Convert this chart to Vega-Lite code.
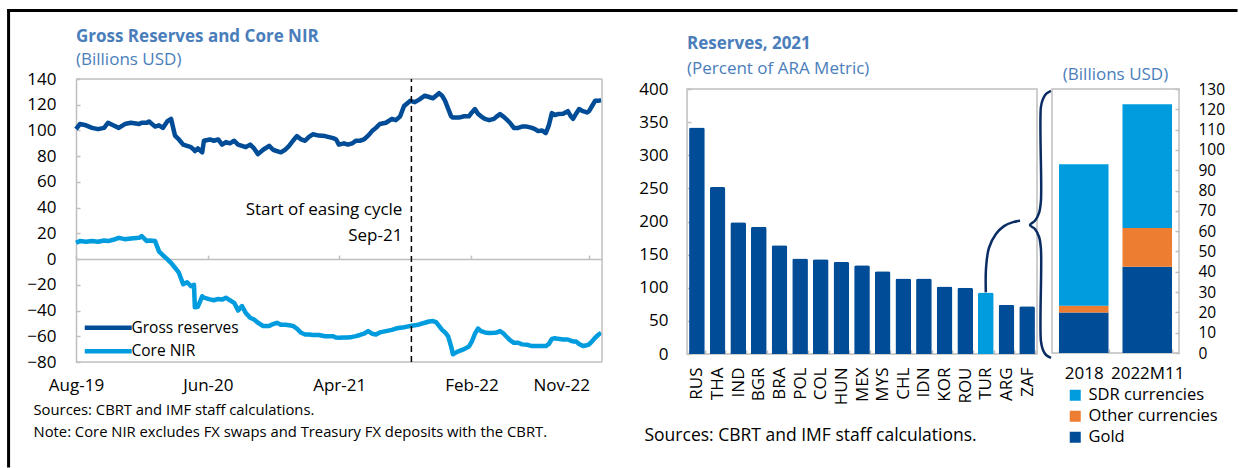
{
  "$schema": "https://vega.github.io/schema/vega-lite/v6.json",
  "background": "white",
  "padding": {"left": 6, "top": 8, "right": 0, "bottom": 0},
  "bounds": "flush",
  "spacing": 15,
  "resolve": {"scale": {"color": "independent"}, "legend": {"color": "independent"}},
  "config": {
    "font": "Open Sans",
    "axis": {"labelColor": "#000000", "labelFontSize": 17, "grid": false},
    "legend": {"labelColor": "#000000", "labelFontSize": 16.5, "padding": 0},
    "title": {"color": "#4a7ebb", "subtitleColor": "#4a7ebb", "fontSize": 17, "subtitleFontSize": 17}
  },
  "hconcat": [
    {
      "width": 596,
      "height": 273,
      "view": {"stroke": null},
      "title": {"text": "Gross Reserves and Core NIR", "subtitle": "(Billions USD)", "anchor": "start", "frame": "group", "offset": -61, "fontWeight": "bold", "subtitlePadding": 6},
      "layer": [
        {
          "data": {"values": [
            {"date": "2019-08-01", "Gross reserves": 101, "Core NIR": 12.7},
            {"date": "2019-08-10", "Gross reserves": 105, "Core NIR": 14},
            {"date": "2019-08-24", "Gross reserves": 104, "Core NIR": 13.5},
            {"date": "2019-09-07", "Gross reserves": 102, "Core NIR": 14},
            {"date": "2019-09-21", "Gross reserves": 101, "Core NIR": 13.5},
            {"date": "2019-10-05", "Gross reserves": 102, "Core NIR": 14.5},
            {"date": "2019-10-14", "Gross reserves": 106, "Core NIR": 14},
            {"date": "2019-10-26", "Gross reserves": 104, "Core NIR": 15},
            {"date": "2019-11-08", "Gross reserves": 102, "Core NIR": 16.5},
            {"date": "2019-11-22", "Gross reserves": 105, "Core NIR": 15.5},
            {"date": "2019-12-06", "Gross reserves": 106, "Core NIR": 16},
            {"date": "2019-12-25", "Gross reserves": 105, "Core NIR": 16.5},
            {"date": "2019-12-31", "Gross reserves": 106, "Core NIR": 17.9},
            {"date": "2020-01-12", "Gross reserves": 106, "Core NIR": 14},
            {"date": "2020-01-17", "Gross reserves": 107, "Core NIR": 14.5},
            {"date": "2020-01-31", "Gross reserves": 103, "Core NIR": 14},
            {"date": "2020-02-09", "Gross reserves": 104, "Core NIR": 6},
            {"date": "2020-02-18", "Gross reserves": 102, "Core NIR": 3},
            {"date": "2020-02-28", "Gross reserves": 107, "Core NIR": 0},
            {"date": "2020-03-08", "Gross reserves": 109, "Core NIR": -3},
            {"date": "2020-03-17", "Gross reserves": 96, "Core NIR": -6.7},
            {"date": "2020-03-26", "Gross reserves": 93, "Core NIR": -10.6},
            {"date": "2020-04-05", "Gross reserves": 89, "Core NIR": -19.5},
            {"date": "2020-04-14", "Gross reserves": 88, "Core NIR": -18},
            {"date": "2020-04-23", "Gross reserves": 87, "Core NIR": -21},
            {"date": "2020-04-30", "Gross reserves": 85, "Core NIR": -20},
            {"date": "2020-05-02", "Gross reserves": 84, "Core NIR": -37.5},
            {"date": "2020-05-09", "Gross reserves": 86, "Core NIR": -37},
            {"date": "2020-05-19", "Gross reserves": 83, "Core NIR": -29},
            {"date": "2020-05-23", "Gross reserves": 92, "Core NIR": -30},
            {"date": "2020-06-06", "Gross reserves": 93, "Core NIR": -31.3},
            {"date": "2020-06-15", "Gross reserves": 92, "Core NIR": -32},
            {"date": "2020-06-25", "Gross reserves": 93, "Core NIR": -31},
            {"date": "2020-07-04", "Gross reserves": 89, "Core NIR": -31.5},
            {"date": "2020-07-13", "Gross reserves": 91, "Core NIR": -30},
            {"date": "2020-07-22", "Gross reserves": 90, "Core NIR": -32},
            {"date": "2020-08-01", "Gross reserves": 92, "Core NIR": -34},
            {"date": "2020-08-10", "Gross reserves": 89, "Core NIR": -40},
            {"date": "2020-08-19", "Gross reserves": 88, "Core NIR": -36.5},
            {"date": "2020-08-28", "Gross reserves": 87, "Core NIR": -42},
            {"date": "2020-09-07", "Gross reserves": 89, "Core NIR": -45.6},
            {"date": "2020-09-16", "Gross reserves": 86, "Core NIR": -47},
            {"date": "2020-09-25", "Gross reserves": 81.6, "Core NIR": -49.5},
            {"date": "2020-10-07", "Gross reserves": 85, "Core NIR": -52},
            {"date": "2020-10-21", "Gross reserves": 88, "Core NIR": -52},
            {"date": "2020-10-30", "Gross reserves": 85, "Core NIR": -50.5},
            {"date": "2020-11-08", "Gross reserves": 84, "Core NIR": -49.5},
            {"date": "2020-11-17", "Gross reserves": 83, "Core NIR": -51},
            {"date": "2020-11-27", "Gross reserves": 85, "Core NIR": -51},
            {"date": "2020-12-06", "Gross reserves": 88, "Core NIR": -51.5},
            {"date": "2020-12-15", "Gross reserves": 92, "Core NIR": -52},
            {"date": "2020-12-24", "Gross reserves": 95.6, "Core NIR": -54},
            {"date": "2021-01-03", "Gross reserves": 93, "Core NIR": -57.3},
            {"date": "2021-01-12", "Gross reserves": 92, "Core NIR": -58.6},
            {"date": "2021-01-21", "Gross reserves": 95, "Core NIR": -58.6},
            {"date": "2021-01-30", "Gross reserves": 97, "Core NIR": -59},
            {"date": "2021-02-13", "Gross reserves": 96, "Core NIR": -59},
            {"date": "2021-02-27", "Gross reserves": 95.6, "Core NIR": -60},
            {"date": "2021-03-18", "Gross reserves": 94, "Core NIR": -60},
            {"date": "2021-03-25", "Gross reserves": 93, "Core NIR": -61},
            {"date": "2021-03-31", "Gross reserves": 89, "Core NIR": -61.2},
            {"date": "2021-04-12", "Gross reserves": 90, "Core NIR": -61},
            {"date": "2021-04-21", "Gross reserves": 89, "Core NIR": -61},
            {"date": "2021-05-01", "Gross reserves": 90, "Core NIR": -60.5},
            {"date": "2021-05-10", "Gross reserves": 92, "Core NIR": -59.9},
            {"date": "2021-05-19", "Gross reserves": 92, "Core NIR": -59},
            {"date": "2021-05-28", "Gross reserves": 93, "Core NIR": -58},
            {"date": "2021-06-07", "Gross reserves": 96, "Core NIR": -56},
            {"date": "2021-06-16", "Gross reserves": 99.5, "Core NIR": -58},
            {"date": "2021-06-25", "Gross reserves": 102, "Core NIR": -58.6},
            {"date": "2021-07-04", "Gross reserves": 105, "Core NIR": -57},
            {"date": "2021-07-18", "Gross reserves": 106, "Core NIR": -56},
            {"date": "2021-08-01", "Gross reserves": 109, "Core NIR": -55},
            {"date": "2021-08-10", "Gross reserves": 108, "Core NIR": -54},
            {"date": "2021-08-20", "Gross reserves": 111, "Core NIR": -53.4},
            {"date": "2021-08-29", "Gross reserves": 119, "Core NIR": -53},
            {"date": "2021-09-05", "Gross reserves": 121, "Core NIR": -52.5},
            {"date": "2021-09-12", "Gross reserves": 123, "Core NIR": -52},
            {"date": "2021-09-23", "Gross reserves": 122, "Core NIR": -51.5},
            {"date": "2021-10-03", "Gross reserves": 124, "Core NIR": -50.8},
            {"date": "2021-10-16", "Gross reserves": 127, "Core NIR": -49.5},
            {"date": "2021-10-26", "Gross reserves": 126, "Core NIR": -48.5},
            {"date": "2021-11-04", "Gross reserves": 125, "Core NIR": -48.2},
            {"date": "2021-11-11", "Gross reserves": 127, "Core NIR": -49},
            {"date": "2021-11-18", "Gross reserves": 129, "Core NIR": -52},
            {"date": "2021-11-25", "Gross reserves": 127, "Core NIR": -55},
            {"date": "2021-12-02", "Gross reserves": 123, "Core NIR": -57},
            {"date": "2021-12-09", "Gross reserves": 117, "Core NIR": -60},
            {"date": "2021-12-16", "Gross reserves": 111, "Core NIR": -68},
            {"date": "2021-12-20", "Gross reserves": 110, "Core NIR": -74},
            {"date": "2021-12-25", "Gross reserves": 110, "Core NIR": -73},
            {"date": "2022-01-03", "Gross reserves": 110, "Core NIR": -71.5},
            {"date": "2022-01-15", "Gross reserves": 111, "Core NIR": -70},
            {"date": "2022-01-26", "Gross reserves": 111, "Core NIR": -68},
            {"date": "2022-02-02", "Gross reserves": 114, "Core NIR": -64},
            {"date": "2022-02-09", "Gross reserves": 116.6, "Core NIR": -58},
            {"date": "2022-02-16", "Gross reserves": 113, "Core NIR": -54},
            {"date": "2022-02-23", "Gross reserves": 111, "Core NIR": -56},
            {"date": "2022-03-04", "Gross reserves": 109, "Core NIR": -57},
            {"date": "2022-03-14", "Gross reserves": 108, "Core NIR": -57.5},
            {"date": "2022-03-25", "Gross reserves": 109, "Core NIR": -57.3},
            {"date": "2022-04-01", "Gross reserves": 111, "Core NIR": -57},
            {"date": "2022-04-08", "Gross reserves": 112.7, "Core NIR": -56},
            {"date": "2022-04-15", "Gross reserves": 111, "Core NIR": -57.5},
            {"date": "2022-04-22", "Gross reserves": 109, "Core NIR": -60},
            {"date": "2022-05-01", "Gross reserves": 106, "Core NIR": -63},
            {"date": "2022-05-10", "Gross reserves": 102, "Core NIR": -65.1},
            {"date": "2022-05-20", "Gross reserves": 102, "Core NIR": -65},
            {"date": "2022-05-29", "Gross reserves": 103, "Core NIR": -66.3},
            {"date": "2022-06-09", "Gross reserves": 103, "Core NIR": -66.5},
            {"date": "2022-06-21", "Gross reserves": 102, "Core NIR": -67.6},
            {"date": "2022-06-28", "Gross reserves": 101, "Core NIR": -67.5},
            {"date": "2022-07-05", "Gross reserves": 99.5, "Core NIR": -67.6},
            {"date": "2022-07-14", "Gross reserves": 100, "Core NIR": -67.6},
            {"date": "2022-07-23", "Gross reserves": 98, "Core NIR": -67.6},
            {"date": "2022-07-30", "Gross reserves": 104, "Core NIR": -66},
            {"date": "2022-08-06", "Gross reserves": 113.5, "Core NIR": -62},
            {"date": "2022-08-13", "Gross reserves": 112, "Core NIR": -61.5},
            {"date": "2022-08-20", "Gross reserves": 112.7, "Core NIR": -62},
            {"date": "2022-09-01", "Gross reserves": 113, "Core NIR": -62.5},
            {"date": "2022-09-12", "Gross reserves": 115, "Core NIR": -62.5},
            {"date": "2022-09-19", "Gross reserves": 111, "Core NIR": -63.5},
            {"date": "2022-09-24", "Gross reserves": 109, "Core NIR": -64},
            {"date": "2022-10-01", "Gross reserves": 113, "Core NIR": -64},
            {"date": "2022-10-08", "Gross reserves": 116.6, "Core NIR": -66},
            {"date": "2022-10-17", "Gross reserves": 115, "Core NIR": -67.6},
            {"date": "2022-10-26", "Gross reserves": 114, "Core NIR": -67},
            {"date": "2022-10-31", "Gross reserves": 115, "Core NIR": -66.3},
            {"date": "2022-11-07", "Gross reserves": 119, "Core NIR": -64},
            {"date": "2022-11-14", "Gross reserves": 123, "Core NIR": -61.2},
            {"date": "2022-11-21", "Gross reserves": 123, "Core NIR": -59},
            {"date": "2022-11-28", "Gross reserves": 123.6, "Core NIR": -57.3}
          ]},
          "transform": [{"fold": ["Gross reserves", "Core NIR"], "as": ["series", "value"]}],
          "mark": {"type": "line", "strokeWidth": 4.5, "strokeJoin": "round"},
          "encoding": {
            "x": {
              "field": "date", "type": "temporal", "title": null,
              "scale": {"type": "utc", "domain": [{"year": 2019, "month": 8, "date": 1, "utc": true}, {"year": 2022, "month": 11, "date": 30, "utc": true}], "range": [0, 526]},
              "axis": {
                "values": [{"year": 2019, "month": 8, "date": 1, "utc": true}, {"year": 2020, "month": 6, "date": 1, "utc": true}, {"year": 2021, "month": 4, "date": 1, "utc": true}, {"year": 2022, "month": 2, "date": 1, "utc": true}, {"year": 2022, "month": 11, "date": 1, "utc": true}],
                "format": "%b-%y",
                "offset": -102.9,
                "domainColor": "#bfbfbf", "domainWidth": 1.5,
                "tickColor": "#bfbfbf", "tickWidth": 1.5, "tickSize": -4,
                "labelPadding": 122,
                "labelAlign": {"condition": {"test": "datum.index === 1", "value": "right"}, "value": "center"},
                "title": ["Sources: CBRT and IMF staff calculations.", "Note: Core NIR excludes FX swaps and Treasury FX deposits with the CBRT."],
                "titleX": -43, "titleY": 143, "titleAlign": "left", "titleAnchor": "start", "titleBaseline": "top",
                "titleFontSize": 14.8, "titleFontWeight": "normal", "titleColor": "#000000", "titleLineHeight": 22
              }
            },
            "y": {
              "field": "value", "type": "quantitative", "title": null,
              "scale": {"domain": [-80, 140], "range": [273, -10], "nice": false, "zero": false},
              "axis": {"values": [-80, -60, -40, -20, 0, 20, 40, 60, 80, 100, 120, 140], "labelOverlap": false, "domainColor": "#bfbfbf", "domainWidth": 1.5, "tickColor": "#bfbfbf", "tickWidth": 1.5, "tickSize": -4, "labelPadding": 24}
            },
            "color": {
              "field": "series", "type": "nominal",
              "scale": {"domain": ["Gross reserves", "Core NIR"], "range": ["#004c97", "#009cde"]},
              "legend": {"title": null, "orient": "none", "legendX": 6, "legendY": 231, "symbolType": "M-1,0H8.4", "symbolSize": 100, "symbolStrokeWidth": 4.5, "labelOffset": 34, "labelFontSize": 15.5, "rowPadding": 4.5}
            }
          }
        },
        {
          "data": {"values": [{}]},
          "mark": {"type": "rule", "color": "#bfbfbf", "strokeWidth": 1.5},
          "encoding": {
            "x": {"datum": {"year": 2019, "month": 8, "date": 1, "utc": true}, "type": "temporal", "axis": null},
            "x2": {"datum": {"year": 2022, "month": 11, "date": 30, "utc": true}},
            "y": {"datum": 140, "axis": null}
          }
        },
        {
          "data": {"values": [{}]},
          "mark": {"type": "rule", "color": "#bfbfbf", "strokeWidth": 1.5},
          "encoding": {
            "x": {"datum": {"year": 2019, "month": 8, "date": 1, "utc": true}, "type": "temporal", "axis": null},
            "x2": {"datum": {"year": 2022, "month": 11, "date": 30, "utc": true}},
            "y": {"datum": -80, "axis": null}
          }
        },
        {
          "data": {"values": [{}]},
          "mark": {"type": "rule", "color": "#bfbfbf", "strokeWidth": 1.5},
          "encoding": {
            "x": {"datum": {"year": 2022, "month": 11, "date": 30, "utc": true}, "type": "temporal", "axis": null},
            "y": {"datum": -80, "axis": null},
            "y2": {"datum": 140}
          }
        },
        {
          "data": {"values": [{}]},
          "mark": {"type": "rule", "color": "#000000", "strokeWidth": 1.5, "strokeDash": [6, 4]},
          "encoding": {
            "x": {"datum": {"year": 2021, "month": 9, "date": 15, "utc": true}, "type": "temporal", "axis": null},
            "y": {"datum": -80, "axis": null},
            "y2": {"datum": 140}
          }
        },
        {
          "data": {"values": [{}]},
          "mark": {"type": "text", "align": "right", "baseline": "middle", "dx": -9, "fontSize": 17, "lineBreak": "\n", "lineHeight": 26, "color": "#000000"},
          "encoding": {
            "x": {"datum": {"year": 2021, "month": 9, "date": 15, "utc": true}, "type": "temporal", "axis": null},
            "y": {"datum": 38, "axis": null},
            "text": {"value": "Start of easing cycle\nSep-21"}
          }
        },
        {
          "data": {"values": [{}]},
          "mark": {"type": "rule", "color": "#000000", "strokeWidth": 3, "strokeCap": "square"},
          "encoding": {
            "x": {"datum": {"year": 2019, "month": 2, "date": 26, "utc": true}, "type": "temporal", "axis": null},
            "x2": {"datum": {"year": 2026, "month": 12, "date": 6, "utc": true}},
            "y": {"datum": 193.25, "axis": null}
          }
        },
        {
          "data": {"values": [{}]},
          "mark": {"type": "rule", "color": "#000000", "strokeWidth": 3, "strokeCap": "square"},
          "encoding": {
            "x": {"datum": {"year": 2019, "month": 2, "date": 26, "utc": true}, "type": "temporal", "axis": null},
            "y": {"datum": 193.25, "axis": null},
            "y2": {"datum": -160.85}
          }
        }
      ],
      "resolve": {"axis": {"x": "independent", "y": "independent"}}
    },
    {
      "width": 350,
      "height": 265,
      "view": {"stroke": "#bfbfbf", "strokeWidth": 1.5},
      "title": {"text": "Reserves, 2021", "subtitle": "(Percent of ARA Metric)", "anchor": "start", "frame": "group", "offset": 2, "fontWeight": "bold", "subtitlePadding": 8},
      "layer": [
        {
          "data": {"values": [
            {"country": "RUS", "pct": 342},
            {"country": "THA", "pct": 252},
            {"country": "IND", "pct": 199},
            {"country": "BGR", "pct": 192},
            {"country": "BRA", "pct": 164},
            {"country": "POL", "pct": 144},
            {"country": "COL", "pct": 143},
            {"country": "HUN", "pct": 139},
            {"country": "MEX", "pct": 134},
            {"country": "MYS", "pct": 125},
            {"country": "CHL", "pct": 114},
            {"country": "IDN", "pct": 114},
            {"country": "KOR", "pct": 102},
            {"country": "ROU", "pct": 100},
            {"country": "TUR", "pct": 93},
            {"country": "ARG", "pct": 74.5},
            {"country": "ZAF", "pct": 72}
          ]},
          "mark": {"type": "bar", "cornerRadiusTopLeft": 2, "cornerRadiusTopRight": 2},
          "encoding": {
            "x": {
              "field": "country", "type": "nominal", "sort": null,
              "scale": {"paddingInner": 0.24, "paddingOuter": 0.1},
              "axis": {
                "labelAngle": -90, "labelPadding": 17, "domain": false,
                "tickBand": "extent", "tickSize": -4, "tickColor": "#bfbfbf", "tickWidth": 1.5,
                "title": "Sources: CBRT and IMF staff calculations.",
                "titleX": -43, "titleY": 72, "titleAlign": "left", "titleAnchor": "start", "titleBaseline": "top",
                "titleFontSize": 17.5, "titleFontWeight": "normal", "titleColor": "#000000"
              }
            },
            "y": {
              "field": "pct", "type": "quantitative", "title": null,
              "scale": {"domain": [0, 400], "nice": false},
              "axis": {"values": [0, 50, 100, 150, 200, 250, 300, 350, 400], "labelOverlap": false, "domain": false, "tickColor": "#bfbfbf", "tickWidth": 1.5, "tickSize": -4, "labelPadding": 23}
            },
            "color": {"condition": {"test": "datum.country === 'TUR'", "value": "#009cde"}, "value": "#004c97"}
          }
        },
        {
          "data": {"values": [
            {"cx": 14.48, "cy": 93},
            {"cx": 14.49, "cy": 129.8},
            {"cx": 14.63, "cy": 160},
            {"cx": 14.97, "cy": 181},
            {"cx": 15.36, "cy": 193},
            {"cx": 15.8, "cy": 199},
            {"cx": 16.14, "cy": 201}
          ]},
          "mark": {"type": "line", "color": "#0b2c63", "strokeWidth": 2.5, "interpolate": "catmull-rom"},
          "encoding": {
            "x": {"field": "cx", "type": "quantitative", "scale": {"domain": [0, 16.96], "nice": false, "zero": false}, "axis": null},
            "y": {"field": "cy", "type": "quantitative", "title": null, "scale": {"domain": [0, 400], "nice": false}, "axis": null}
          }
        },
        {
          "data": {"values": [
            {"k": 0, "bx": 17.64, "by": 397},
            {"k": 1, "bx": 17.4, "by": 392.5},
            {"k": 2, "bx": 17.25, "by": 385},
            {"k": 3, "bx": 17.15, "by": 373},
            {"k": 4, "bx": 17.15, "by": 231},
            {"k": 5, "bx": 17.06, "by": 213},
            {"k": 6, "bx": 16.86, "by": 201},
            {"k": 7, "bx": 16.62, "by": 194.7},
            {"k": 8, "bx": 16.86, "by": 188.7},
            {"k": 9, "bx": 17.06, "by": 176.6},
            {"k": 10, "bx": 17.15, "by": 158.5},
            {"k": 11, "bx": 17.15, "by": 19.6},
            {"k": 12, "bx": 17.25, "by": 6},
            {"k": 13, "bx": 17.4, "by": -1.5},
            {"k": 14, "bx": 17.64, "by": -6}
          ]},
          "mark": {"type": "line", "color": "#0b2c63", "strokeWidth": 2.5, "interpolate": "catmull-rom"},
          "encoding": {
            "x": {"field": "bx", "type": "quantitative", "scale": {"domain": [0, 16.96], "nice": false, "zero": false}, "axis": null},
            "y": {"field": "by", "type": "quantitative", "title": null, "scale": {"domain": [0, 400], "nice": false}, "axis": null},
            "order": {"field": "k", "type": "quantitative"}
          }
        }
      ],
      "resolve": {"scale": {"x": "independent"}, "axis": {"y": "independent"}}
    },
    {
      "width": 127,
      "height": 264,
      "view": {"stroke": "#bfbfbf", "strokeWidth": 1.5},
      "title": {"text": "(Billions USD)", "anchor": "middle", "frame": "group", "offset": -2, "fontWeight": "normal"},
      "data": {"values": [
        {"year": "2018", "type": "Gold", "value": 20},
        {"year": "2018", "type": "Other currencies", "value": 3.3},
        {"year": "2018", "type": "SDR currencies", "value": 69.7},
        {"year": "2022M11", "type": "Gold", "value": 42.5},
        {"year": "2022M11", "type": "Other currencies", "value": 19},
        {"year": "2022M11", "type": "SDR currencies", "value": 61}
      ]},
      "mark": {"type": "bar"},
      "encoding": {
        "x": {
          "field": "year", "type": "nominal", "sort": null, "title": null,
          "scale": {"paddingInner": 0.22, "paddingOuter": 0.11},
          "axis": {"labelAngle": 0, "labelPadding": 16, "domain": false, "tickBand": "extent", "tickSize": -4, "tickColor": "#bfbfbf", "tickWidth": 1.5}
        },
        "y": {
          "field": "value", "type": "quantitative", "stack": "zero", "title": null,
          "scale": {"domain": [0, 130], "nice": false},
          "axis": {"orient": "right", "values": [0, 10, 20, 30, 40, 50, 60, 70, 80, 90, 100, 110, 120, 130], "labelOverlap": false, "labelFontSize": 15.5, "domain": false, "tickColor": "#bfbfbf", "tickWidth": 1.5, "tickSize": -4, "labelPadding": 23}
        },
        "color": {
          "field": "type", "type": "nominal",
          "scale": {"domain": ["SDR currencies", "Other currencies", "Gold"], "range": ["#009cde", "#ed7d31", "#004c97"]},
          "legend": {"title": null, "orient": "none", "legendX": 15, "legendY": 298, "symbolType": "square", "symbolSize": 121, "symbolStrokeWidth": 0, "labelOffset": 5, "rowPadding": 4}
        },
        "order": {"field": "type", "sort": "ascending"}
      }
    }
  ]
}
